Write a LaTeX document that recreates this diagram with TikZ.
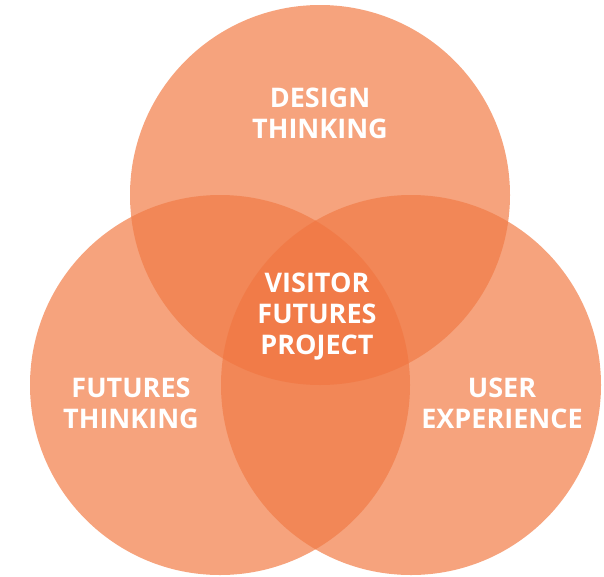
\documentclass[tikz,border=0pt]{standalone}
\usepackage{fontspec}
\setmainfont{Open Sans}
\definecolor{onefill}{RGB}{246,163,125}
\definecolor{twofill}{RGB}{242,135,87}
\definecolor{threefill}{RGB}{241,123,72}
\tikzset{
  label/.style={text=white,font=\fontsize{27}{31}\selectfont\bfseries,align=center,inner sep=0pt}
}
\begin{document}
\begin{tikzpicture}[x=1pt,y=-1pt]
		\useasboundingbox (0,0) rectangle (604,576);
		\def\r{190}
		\coordinate (design) at (320,195);
		\coordinate (futures) at (220,385);
		\coordinate (user) at (411,385);
		% the three circles
		\fill[onefill] (design) circle (\r);
		\fill[onefill] (futures) circle (\r);
		\fill[onefill] (user) circle (\r);
		% pairwise overlaps
		\begin{scope}
			\clip (design) circle (\r);
			\fill[twofill] (futures) circle (\r);
			\fill[twofill] (user) circle (\r);
		\end{scope}
		\begin{scope}
			\clip (futures) circle (\r);
			\fill[twofill] (user) circle (\r);
		\end{scope}
		% middle
		\begin{scope}
			\clip (design) circle (\r);
			\clip (futures) circle (\r);
			\fill[threefill] (user) circle (\r);
		\end{scope}
		\node[label] (designtext) at (320,113) {DESIGN\\THINKING};
		\node[label] (centertext) at (317,317) {VISITOR\\FUTURES\\PROJECT};
		\node[label] (futurestext) at (131,403) {FUTURES\\THINKING};
		\node[label] (usertext) at (502,403) {USER\\EXPERIENCE};
\end{tikzpicture}
\end{document}
